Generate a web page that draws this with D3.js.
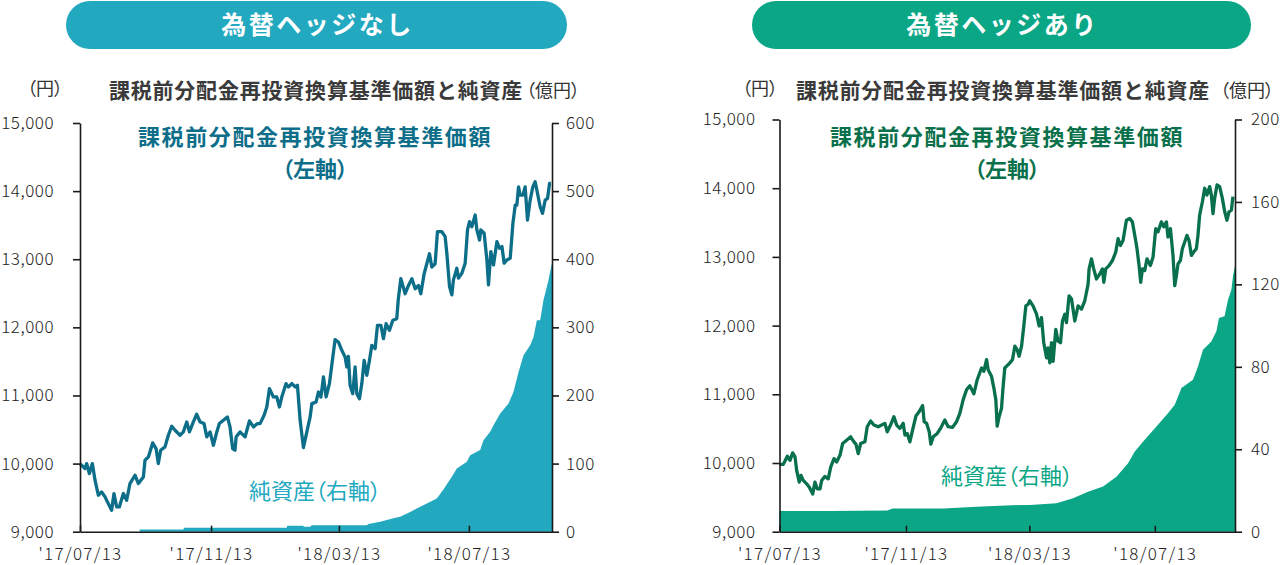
<!DOCTYPE html>
<html>
<head>
<meta charset="utf-8">
<script src="https://cdn.jsdelivr.net/npm/d3@7"></script>
<style>
  body { margin: 0; background: #fff; }
  svg text { font-family: "Noto Sans CJK JP", "Noto Sans", sans-serif; }
</style>
</head>
<body>
<script>
// x axis
var startDate = "2017-07-13";
var endDate = "2018-09-29";
var xTickDates = ["2017-07-13", "2017-11-13", "2018-03-13", "2018-07-13"];
var xTickLabels = ["'17/07/13", "'17/11/13", "'18/03/13", "'18/07/13"];

// y ticks
var navTicks = [9000, 10000, 11000, 12000, 13000, 14000, 15000];
var assetTicksUnhedged = [0, 100, 200, 300, 400, 500, 600];
var assetTicksHedged = [0, 40, 80, 120, 160, 200];

// [days since 2017-07-13, 基準価額 (円)]
var navUnhedged = [
  [0,10000],[4.7,9927],[6.3,10000],[8.8,9853],[11.6,10000],[14.1,9756],[17.2,9535],[20.3,9584],
  [23.5,9511],[25.7,9438],[29.7,9315],[31.9,9560],[34.4,9364],[36.9,9364],[40.7,9560],[43.8,9462],
  [46.9,9707],[51.6,9829],[54.8,9707],[59.5,9804],[61,10049],[64.2,10098],[68.2,10303],[71.4,10220],
  [73.5,10000],[75.7,10196],[79.8,10245],[82.9,10416],[86.1,10548],[89.2,10489],[93.9,10416],[97,10465],
  [100.2,10611],[102.7,10465],[106.4,10611],[109.5,10724],[112.7,10611],[116.4,10587],[119,10391],
  [122.1,10465],[125.2,10269],[128.4,10465],[130.8,10587],[134.6,10636],[138.3,10685],[140.8,10538],
  [143.3,10220],[145.5,10196],[146.5,10391],[150.2,10465],[154.9,10391],[159,10626],[162.8,10538],
  [166.5,10587],[169,10587],[172.8,10709],[175.3,10831],[177.8,11100],[181.5,10978],[184.7,10978],
  [187.2,10831],[189.4,10978],[193.4,11174],[195.6,11125],[198.8,11174],[201.9,11125],[204.1,11149],
  [206.6,10636],[209.7,10235],[212.9,10465],[216,10685],[217.6,10880],[221.6,10905],[223.8,11051],
  [226.1,10978],[228.5,11271],[231,10978],[234.1,11174],[236.3,11443],[239.4,11819],[242.5,11785],
  [245.7,11663],[248.8,11565],[250.4,11418],[251.9,11575],[253.5,11149],[256,11027],[258.2,11418],
  [259.8,11027],[262.3,10953],[264.5,11174],[266.7,11516],[269.2,11296],[271.7,11516],[273.9,11736],
  [277,11687],[279.2,12029],[282.4,12029],[284.8,11834],[287.3,12054],[290.4,11956],[293.6,12103],
  [297.3,12127],[298.8,12420],[301.1,12714],[305.2,12494],[308.3,12616],[311.5,12714],[314.6,12567],
  [317.7,12616],[319.9,12494],[323,12787],[325.5,12934],[328,13080],[330.2,12885],[333.3,12934],
  [335.5,13405],[339.6,13405],[342.7,13332],[344.3,13088],[346.8,12600],[349,12478],[350.5,12697],
  [353.7,12868],[355.2,12722],[358.4,12795],[361.5,12942],[363.7,13430],[365.6,13551],[367.8,13478],
  [370.9,13649],[372.5,13430],[375,13283],[376.2,13430],[379.3,13381],[381.9,12990],[383.4,12624],
  [385.6,13112],[388.1,12917],[391.3,13259],[393.8,13161],[396,13186],[398.1,12942],[400.6,12990],
  [403.8,13015],[406.3,13527],[408.5,13795],[410,13795],[411.6,14063],[413.1,13941],[415.7,13941],
  [417.8,14063],[420,13575],[422.5,13868],[425,14063],[427.2,14137],[429.4,13966],[431.9,13770],
  [434.1,13673],[436.6,13868],[438.8,13893],[440.7,14112],[442,14112]
];

// [days, 純資産 (億円)]
var assetsUnhedged = [
  [56,3.4],[97,3.4],[97.7,5.9],[194,5.9],[194.5,8.8],[209.7,8.8],[210,7.3],[216,7.3],[217.6,9.3],
  [269.2,9.3],[270.7,11.2],[281.7,14.7],[294.2,19.6],[300.5,22],[309.9,29],[316.1,34],[325.5,41.5],
  [334.9,48.9],[341.1,62],[349,80.7],[353.7,92.9],[363.1,102.6],[366.2,112.4],[375.6,119.8],
  [378.7,134.4],[385,146.6],[388.1,156.4],[394.4,173.5],[402.2,188.2],[406.9,205.3],[411.6,234.6],
  [416.3,259],[422.5,273.7],[425.7,286],[428.8,310.4],[431.9,310.4],[435,339.7],[439.7,369],[443,395]
];

var navHedged = [
  [0,9980],[3.7,9980],[7.6,10098],[10.2,10039],[12.8,10147],[15.1,10088],[16.7,9893],[19.2,9721],
  [20.9,9819],[23.1,9746],[26.4,9697],[29,9648],[32.3,9550],[34.5,9721],[36.7,9624],[39.4,9624],
  [41,9746],[44.2,9805],[47.4,9770],[49.8,9941],[53,10064],[55.6,10015],[58.8,10112],[61.4,10283],
  [65.3,10332],[69.2,10381],[72.4,10308],[74.3,10274],[76.6,10137],[78.9,10283],[83.1,10308],
  [85.3,10528],[88.6,10611],[91.8,10552],[96,10528],[99.3,10552],[102.5,10577],[104.8,10454],
  [108,10552],[111.3,10674],[113.9,10552],[117.1,10503],[120.3,10577],[122,10406],[124.2,10430],
  [126.8,10308],[129.4,10479],[132.7,10684],[135.9,10748],[139.2,10836],[140.7,10601],[143.1,10577],
  [145.6,10454],[147.2,10274],[149.5,10381],[153.4,10430],[156.6,10503],[160.8,10625],[164,10528],
  [168.3,10518],[172.2,10601],[175.4,10723],[178.6,10919],[181.9,11065],[185.1,11124],[186.8,11075],
  [189,11007],[192.3,11212],[196.5,11383],[198.7,11334],[201.4,11505],[202.9,11358],[206.2,11261],
  [208.5,11090],[210.4,10919],[211.7,10537],[213.6,10674],[215.9,10796],[217.5,11114],[219.1,11383],
  [221.4,11417],[224,11456],[226.6,11505],[228.9,11700],[231.1,11651],[233,11554],[235.4,11700],
  [237.6,11994],[239.6,12287],[241.8,12311],[243.4,12361],[246.6,12287],[250,12166],[252.5,11994],
  [254.8,12117],[257,11751],[259.7,11531],[261.2,11677],[262.9,11457],[264.5,11751],[266.1,11481],
  [268.7,11946],[270.9,11774],[273.3,11751],[275.2,12067],[277.5,12166],[279.1,12044],[281.6,12434],
  [284,12386],[287.2,12067],[290.4,12287],[293.7,12239],[296.9,12361],[300.1,12600],[301.1,12826],
  [303.4,12972],[305.6,12826],[308.3,12679],[311.5,12752],[314.1,12826],[315.4,12630],[317.3,12826],
  [320.5,12874],[323.8,12947],[327,13070],[329.3,13265],[331.6,13167],[334.1,13240],[337.4,13534],
  [340.6,13559],[343.2,13510],[345.5,13314],[347.7,13119],[349.7,12874],[351.3,12630],[353,12826],
  [355.2,12801],[357.4,12972],[360.7,12874],[363.3,12997],[365.9,13412],[368.1,13364],[371.4,13510],
  [373.7,13437],[376.3,13510],[377.8,13290],[380.2,13412],[382.7,13021],[384.4,12581],[386,12727],
  [387.6,12899],[389.9,12947],[391.8,13119],[394.1,13217],[396.3,13314],[398.3,13240],[400.6,13021],
  [402.8,13070],[405.4,13119],[407,13314],[408.6,13607],[411.3,13803],[413.5,13999],[415.7,13900],
  [418.4,14023],[420,13900],[421.6,13632],[423.2,13852],[425.5,14047],[428.1,14023],[430.7,13852],
  [433,13657],[435.2,13534],[437.1,13657],[439.5,13681],[441,13877]
];

var assetsHedged = [
  [0,10],[50,10.1],[105,10.3],[110,11.3],[160,11.3],[191.6,12.1],[236.7,13],[243.4,13],[269.4,13.8],
  [285.5,16.2],[300.1,19.4],[314.7,21.9],[327.7,26.7],[339,33.2],[345.5,38.9],[355.2,44.6],
  [366.6,51],[377.8,57.5],[384.4,61.6],[390.9,69.7],[402.1,73.7],[407,80.2],[411.9,88.3],[420,92.3],
  [424.9,97.2],[427.4,103.7],[432.9,104.5],[436.2,112.6],[439.5,117.4],[441,124],[443,129]
];

var w = 1284;
var h = 565;
var parse = d3.timeParse("%Y-%m-%d");
var t0 = parse(startDate);
function toDate(day) { return new Date(t0.getTime() + day * 864e5); }

var svg = d3.select("body")
    .append("svg")
    .attr("width", w)
    .attr("height", h);

function drawPanel(p) {
    var x = d3.scaleTime()
        .domain([t0, parse(endDate)])
        .range([p.left, p.right]);
    var y = d3.scaleLinear()
        .domain([9000, 15000])
        .range([531.7, p.top]);
    var y2 = d3.scaleLinear()
        .domain([0, d3.max(p.assetTicks)])
        .range([531.7, p.top]);

    var g = svg.append("g");

    // header pill
    g.append("rect")
        .attr("x", p.pillX).attr("y", 1)
        .attr("width", p.pillW).attr("height", 48)
        .attr("rx", 24)
        .attr("fill", p.pillColor);
    g.append("text")
        .attr("x", p.pillX + p.pillW / 2 + 1).attr("y", 34)
        .attr("text-anchor", "middle")
        .attr("fill", "#fff")
        .style("font-size", "25px").style("font-weight", "bold")
        .style("letter-spacing", "2.5px")
        .text(p.header);

    // title and units
    g.append("text")
        .attr("x", p.titleX).attr("y", 98)
        .attr("text-anchor", "middle")
        .attr("fill", "#3a3a3a")
        .style("font-size", "21px").style("font-weight", "bold")
        .style("letter-spacing", "0.8px")
        .text("課税前分配金再投資換算基準価額と純資産");
    g.append("text")
        .attr("x", p.unitLX).attr("y", 95)
        .attr("text-anchor", "middle")
        .attr("fill", "#333")
        .style("font-size", "18px")
        .style("font-feature-settings", "'palt'")
        .text("（円）");
    g.append("text")
        .attr("x", p.unitRX).attr("y", 97)
        .attr("text-anchor", "middle")
        .attr("fill", "#333")
        .style("font-size", "18px")
        .style("font-feature-settings", "'palt'")
        .text("（億円）");

    // net assets area
    var area = d3.area()
        .x(function(d) { return x(toDate(d[0])); })
        .y0(y2(0))
        .y1(function(d) { return y2(d[1]); });
    g.append("path")
        .datum(p.assets)
        .attr("d", area)
        .attr("fill", p.areaColor);

    // NAV line
    var line = d3.line()
        .x(function(d) { return x(toDate(d[0])); })
        .y(function(d) { return y(d[1]); });
    g.append("path")
        .datum(p.nav)
        .attr("d", line)
        .attr("fill", "none")
        .attr("stroke", p.lineColor)
        .attr("stroke-width", 3.3)
        .attr("stroke-linejoin", "round");

    // axes
    var xAxis = d3.axisBottom(x)
        .tickValues(xTickDates.map(parse))
        .tickFormat(function(d, i) { return xTickLabels[i]; })
        .tickSize(-6)
        .tickSizeOuter(0)
        .tickPadding(16);
    var yAxis = d3.axisLeft(y)
        .tickValues(navTicks)
        .tickFormat(d3.format(","))
        .tickSize(7)
        .tickSizeOuter(0)
        .tickPadding(p.padL);
    var y2Axis = d3.axisRight(y2)
        .tickValues(p.assetTicks)
        .tickSize(7)
        .tickSizeOuter(0)
        .tickPadding(p.padR);

    var gx = g.append("g")
        .attr("transform", "translate(0," + 531.7 + ")")
        .call(xAxis);
    var gy = g.append("g")
        .attr("transform", "translate(" + p.left + ",0)")
        .call(yAxis);
    var gy2 = g.append("g")
        .attr("transform", "translate(" + p.right + ",0)")
        .call(y2Axis);

    [gx, gy, gy2].forEach(function(a) {
        a.selectAll("path, line").attr("stroke", "#1a1a1a").attr("stroke-width", 1.6);
        a.selectAll("text")
            .attr("fill", "#222")
            .style("font-size", "17px")
            .style("font-weight", "300")
            .style("letter-spacing", "0.5px")
            .style("font-family", "'Noto Sans CJK JP', sans-serif");
    });
    gx.selectAll("text").style("letter-spacing", "1.3px");

    // series labels
    g.append("text")
        .attr("x", p.labelX).attr("y", 145)
        .attr("text-anchor", "middle")
        .attr("fill", p.lineColor)
        .style("font-size", "22px").style("font-weight", "bold")
        .style("letter-spacing", "1.6px")
        .text("課税前分配金再投資換算基準価額");
    g.append("text")
        .attr("x", p.labelX).attr("y", 177)
        .attr("text-anchor", "middle")
        .attr("fill", p.lineColor)
        .style("font-size", "22px").style("font-weight", "bold")
        .style("font-feature-settings", "'palt'")
        .text("（左軸）");
    g.append("text")
        .attr("x", p.labelX).attr("y", p.areaLabelY)
        .attr("text-anchor", "middle")
        .attr("fill", p.areaColor)
        .style("font-size", "22px")
        .style("font-feature-settings", "'palt'")
        .text("純資産（右軸）");
}

drawPanel({
    header: "為替ヘッジなし",
    pillX: 66, pillW: 501, pillColor: "#22a8bf",
    titleX: 316, unitLX: 45, unitRX: 553,
    left: 80, right: 552, top: 123,
    padL: 19, padR: 7,
    labelX: 315, areaLabelY: 499,
    nav: navUnhedged, assets: assetsUnhedged, assetTicks: assetTicksUnhedged,
    lineColor: "#0d6e8a", areaColor: "#22a8bf"
});

drawPanel({
    header: "為替ヘッジあり",
    pillX: 752, pillW: 499, pillColor: "#0aa686",
    titleX: 1003, unitLX: 760, unitRX: 1247,
    left: 779.5, right: 1235, top: 119.5,
    padL: 17, padR: 9,
    labelX: 1007, areaLabelY: 484,
    nav: navHedged, assets: assetsHedged, assetTicks: assetTicksHedged,
    lineColor: "#08704b", areaColor: "#0aa686"
});
</script>
</body>
</html>
